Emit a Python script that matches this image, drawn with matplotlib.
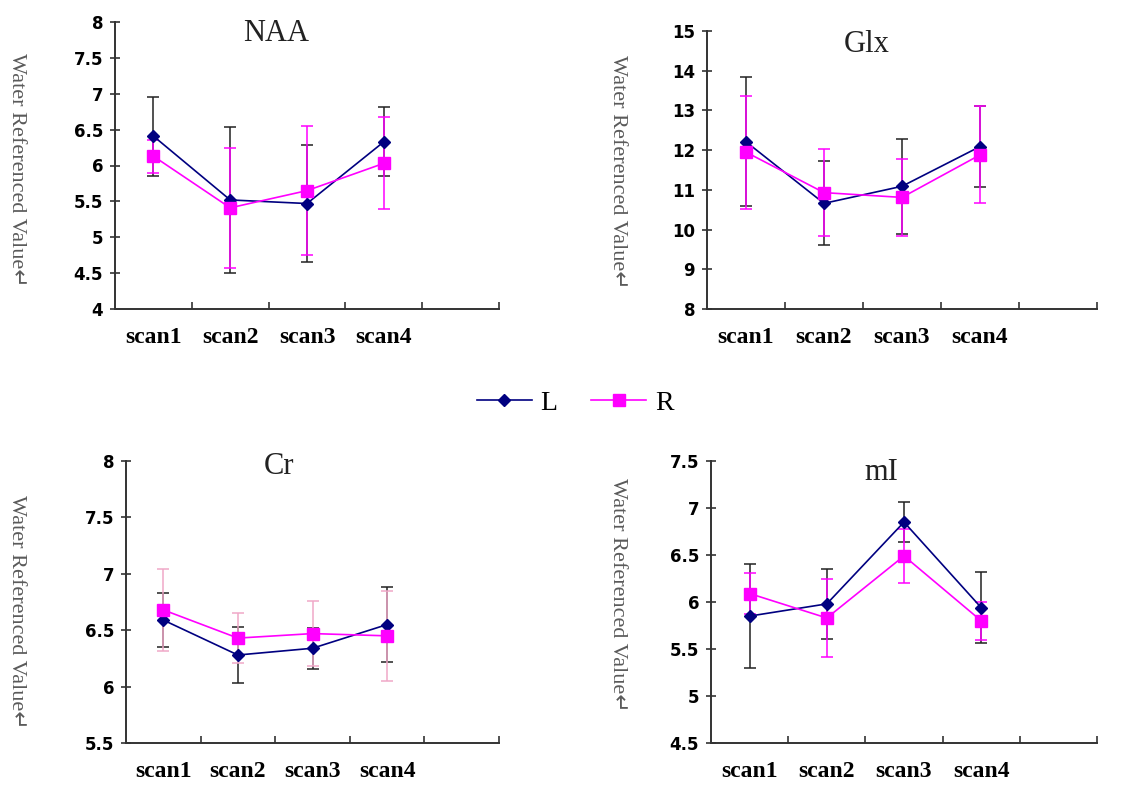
import matplotlib.pyplot as plt
import numpy as np

scans = ['scan1', 'scan2', 'scan3', 'scan4']

# NAA
naa_L = [6.41, 5.52, 5.47, 6.33]
naa_L_err = [0.55, 1.02, 0.82, 0.48]
naa_R = [6.13, 5.41, 5.65, 6.03]
naa_R_err = [0.23, 0.84, 0.90, 0.64]

# Glx
glx_L = [12.21, 10.66, 11.09, 12.09]
glx_L_err = [1.62, 1.06, 1.20, 1.01]
glx_R = [11.95, 10.93, 10.81, 11.88]
glx_R_err = [1.42, 1.10, 0.96, 1.22]

# Cr
cr_L = [6.59, 6.28, 6.34, 6.55]
cr_L_err = [0.24, 0.25, 0.18, 0.33]
cr_R = [6.68, 6.43, 6.47, 6.45]
cr_R_err = [0.36, 0.22, 0.29, 0.40]

# mI
mi_L = [5.85, 5.98, 6.85, 5.94]
mi_L_err = [0.55, 0.37, 0.21, 0.38]
mi_R = [6.09, 5.83, 6.49, 5.80]
mi_R_err = [0.22, 0.42, 0.29, 0.20]

panels = [
    ('NAA', naa_L, naa_L_err, naa_R, naa_R_err, (4, 8), np.arange(4, 8.01, 0.5), '#ff00ff'),
    ('Glx', glx_L, glx_L_err, glx_R, glx_R_err, (8, 15), np.arange(8, 15.01, 1), '#ff00ff'),
    ('Cr', cr_L, cr_L_err, cr_R, cr_R_err, (5.5, 8), np.arange(5.5, 8.01, 0.5), '#f0a8c8'),
    ('mI', mi_L, mi_L_err, mi_R, mi_R_err, (4.5, 7.5), np.arange(4.5, 7.51, 0.5), '#ff00ff'),
]

W, H = 1134, 785
# axes boxes in pixels: left, right, top, bottom
boxes = [(115, 499, 22, 309), (707, 1097, 31, 309), (126, 499, 461, 743), (711, 1097, 461, 743)]
title_pos = [(0.42, 0.935), (0.41, 0.925), (0.41, 0.955), (0.44, 0.932)]
ylab_pos = [(16, 170), (617, 172), (16, 612), (617, 595)]

fig = plt.figure(figsize=(W / 100, H / 100), dpi=100)

x = np.arange(4) + 0.5
handles = None
for i, (name, L, Le, R, Re, ylim, yt, rerr_col) in enumerate(panels):
    l, r, t, b = boxes[i]
    ax = fig.add_axes([l / W, 1 - b / H, (r - l) / W, (b - t) / H])
    eL = ax.errorbar(x, L, yerr=Le, color='#000080', ecolor='#222222', elinewidth=1.1,
                     capsize=4, capthick=1.1, marker='D', markersize=6, lw=1.2,
                     markerfacecolor='#000080', markeredgecolor='#000080')
    eR = ax.errorbar(x, R, yerr=Re, color='#ff00ff', ecolor=rerr_col, elinewidth=1.1,
                     capsize=4, capthick=1.1, marker='s', markersize=8, lw=1.2,
                     markerfacecolor='#ff00ff', markeredgecolor='#ff00ff')
    if handles is None:
        handles = [eL[0], eR[0]]
    ax.set_xlim(0, 5)
    ax.set_ylim(*ylim)
    ax.set_yticks(yt)
    ax.set_yticklabels([('%g' % v) for v in yt], fontfamily='DejaVu Sans',
                       fontweight='bold', fontsize=12)
    ax.set_xticks(x)
    ax.set_xticklabels(scans, fontfamily='Liberation Serif', fontweight='bold', fontsize=17)
    ax.set_xticks([1, 2, 3, 4, 5], minor=True)
    ax.tick_params(axis='x', which='major', length=0, pad=13)
    ax.tick_params(axis='x', which='minor', direction='in', length=5, width=1.2, color='#333333')
    ax.tick_params(axis='y', direction='inout', length=7, width=1.2, color='#333333', pad=5)
    for s in ['top', 'right']:
        ax.spines[s].set_visible(False)
    for s in ['left', 'bottom']:
        ax.spines[s].set_linewidth(1.4)
        ax.spines[s].set_color('#333333')
    ax.text(title_pos[i][0], title_pos[i][1], name, transform=ax.transAxes,
            ha='center', va='baseline', fontfamily='Liberation Serif', fontsize=22, color='#222222')
    px, py = ylab_pos[i]
    fig.text(px / W, 1 - py / H, 'Water Referenced Value\u21b5', rotation=-90,
             ha='center', va='center', fontsize=16, color='#5a5a5a',
             family=['Liberation Serif', 'DejaVu Sans'])

fig.legend(handles, ['L', 'R'], loc='center', bbox_to_anchor=(575 / W, 1 - 403 / H),
           ncol=2, frameon=False, prop={'family': 'Liberation Serif', 'size': 20},
           handlelength=2.0, handletextpad=0.3, columnspacing=1.2)

fig.savefig('out.png', dpi=100)
